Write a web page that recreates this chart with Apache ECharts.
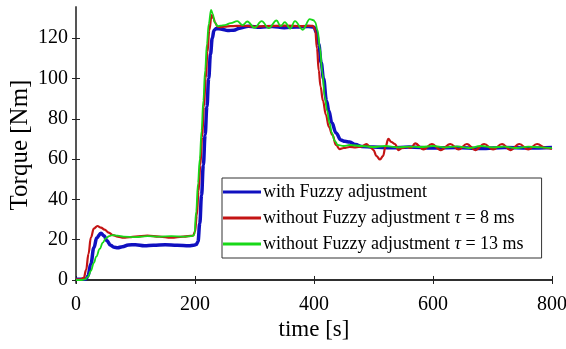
<!DOCTYPE html>
<html>
<head>
<meta charset="utf-8">
<script src="https://cdn.jsdelivr.net/npm/echarts@6/dist/echarts.min.js"></script>
<style>
  html, body { margin: 0; padding: 0; background: #fff; }
  #chart { width: 566px; height: 349px; }
</style>
</head>
<body>
<div id="chart"></div>
<script>
// time [s] and torque [Nm]
var tBlue = [0,10,17,20,25,30,35,42,47,52,58,64,70,78,88,100,115,130,150,170,190,198,202,205,208,211,214,217,220,223,226,229,232,236,245,255,265,275,290,310,330,350,370,390,400,404,408,412,416,421,425,430,437,445,452,460,470,480,500,530,560,600,640,680,720,760,800];
var vBlue = [0.3,0.3,0.5,2,8,16,21,23.2,22,19.5,17.2,16.2,16,16.5,17.4,17.5,17,17.3,17.5,17.2,17,17.3,17.6,19,28,42,57,72,86,100,112,120,124,124.8,124.5,123.8,124,125,126,125.5,125.8,125.2,125.6,125.8,125.5,123,117,108,100,89,84,78,73,69.5,68.8,68.5,67.2,66.3,66,65.6,66,65.5,65.8,65.3,65.8,65.5,65.8];

var tRed = [0,8,13,17,21,25,30,36,42,48,55,62,70,80,90,100,120,140,160,180,197,200,203,206,209,212,215,218,221,224,228,231,234,238,242,250,260,280,300,320,350,380,398,402,405,408,411,415,420,425,431,437,443,450,460,470,480,488,495,500,505,511,516,520,525,530,536,542,548,556,563,570,584,598,613,629,643,657,671,686,701,716,730,745,760,775,790,800];
var vRed = [0.3,0.3,1,5,13,21,25.5,26.8,26,25,23.5,22.3,21.5,21,21.3,21.5,22,21.5,21,21.5,22,24,32,44,57,71,86,100,113,124,131.5,130,127.5,125.8,125.5,125.8,126,126.2,125.8,126,126.3,126,126.2,124,115,104,96,89,82,76,72,67,65,65.5,66,65.8,66.2,67.5,65.8,64.5,61.5,59.8,61.5,66,70,68.5,67.5,64.5,65.5,66,65.5,67.8,64.8,67.5,64.5,67.5,64.8,67.5,64.5,67.5,64.8,67.5,64.5,67.5,64.8,67.5,65.5,65];

var tGreen = [0,10,15,20,25,30,34,40,45,50,56,62,70,80,100,120,140,160,180,195,199,202,205,208,211,214,217,220,223,227,230,233,238,243,250,260,271,280,288,300,312,324,337,344,351,360,368,381,393,399,402,406,410,414,418,422,426,430,435,440,450,460,480,500,520,540,560,580,600,620,640,660,680,700,720,740,760,780,800];
var vGreen = [0,0,0.3,1.5,4.5,8.5,11.6,15.5,18.5,20.7,21.8,22.3,22,21.5,21.3,21.8,21.5,21.8,21.5,21.8,22.5,34,48,60,74,89,104,117,127,134,132,128,126,126.3,126.5,127.5,128.5,126.5,128.3,125.2,128.5,125,128.8,126,128,124.8,128.5,124.2,129.5,129,128,124,115,103,91,84,78,73,69,67,66.5,67,66.5,66,66.5,65.8,66.2,66,66.5,65.8,66.3,65.5,66.5,65.8,66.2,65.5,66.2,65.8,65.5];

var yTicks = [0, 20, 40, 60, 80, 100, 120];
var names = ['with Fuzzy adjustment', 'without Fuzzy adjustment τ = 8 ms', 'without Fuzzy adjustment τ = 13 ms'];

function pairs(t, v) {
  return t.map(function (x, i) { return [x, v[i]]; });
}

var font = 'Liberation Serif';
var chart = echarts.init(document.getElementById('chart'));

var axisLine = { show: true, lineStyle: { color: '#222', width: 1.5 } };
var tick = { show: true, inside: true, length: 4, lineStyle: { color: '#222' } };

var option = {
  animation: false,
  backgroundColor: '#fff',
  grid: { left: 76, right: 14, top: 7, bottom: 66, outerBoundsMode: 'none', containLabel: false },
  legend: {
    orient: 'vertical',
    left: 222,
    top: 178,
    data: [
      { name: names[0], itemStyle: { color: '#1010c0' } },
      { name: names[1], itemStyle: { color: '#c41414' } },
      { name: names[2], itemStyle: { color: '#18d818' } }
    ],
    icon: 'rect',
    itemWidth: 38,
    itemHeight: 3,
    itemGap: 8,
    padding: [5, 18, 5, 1],
    backgroundColor: '#fff',
    borderColor: '#333',
    borderWidth: 1,
    borderRadius: 0,
    formatter: function (name) { return name.replace('τ', '{i|τ}'); },
    textStyle: {
      fontFamily: font, fontSize: 18, color: '#000', padding: [0, 0, 0, -3],
      rich: { i: { fontFamily: font, fontSize: 18, fontStyle: 'italic', color: '#000' } }
    }
  },
  xAxis: [{
    type: 'value', min: 0, max: 800, interval: 200,
    name: 'time [s]', nameLocation: 'middle', nameGap: 35, nameMoveOverlap: false,
    nameTextStyle: { fontFamily: font, fontSize: 23, color: '#000' },
    axisLine: axisLine, axisTick: tick,
    axisLabel: { fontFamily: font, fontSize: 20, color: '#000', margin: 12 },
    splitLine: { show: false }
  }, {
    type: 'value', position: 'top', min: 0, max: 800, interval: 200,
    axisLine: axisLine, axisTick: tick, axisLabel: { show: false }, splitLine: { show: false }
  }],
  yAxis: [{
    type: 'value', min: -1.5, max: 135.5,
    name: 'Torque [Nm]', nameLocation: 'middle', nameGap: 43, nameMoveOverlap: false,
    nameTextStyle: { fontFamily: font, fontSize: 25, color: '#000' },
    axisLine: axisLine,
    axisTick: { show: true, inside: true, length: 4, lineStyle: { color: '#222' }, customValues: yTicks },
    axisLabel: { fontFamily: font, fontSize: 20, color: '#000', margin: 8, customValues: yTicks },
    splitLine: { show: false }
  }, {
    type: 'value', position: 'right', min: -1.5, max: 135.5,
    axisLine: { show: true, lineStyle: { color: '#555', width: 1.5 } },
    axisTick: { show: true, inside: true, length: 4, lineStyle: { color: '#222' }, customValues: yTicks },
    axisLabel: { show: false }, splitLine: { show: false }
  }],
  series: [{
    name: names[2], type: 'line', symbol: 'none', smooth: 0.4, smoothMonotone: 'x',
    data: pairs(tGreen, vGreen), z: 3,
    lineStyle: { color: '#18d818', width: 1.8 }, itemStyle: { color: '#18d818' }
  }, {
    name: names[1], type: 'line', symbol: 'none', smooth: 0.4, smoothMonotone: 'x',
    data: pairs(tRed, vRed), z: 2,
    lineStyle: { color: '#c41414', width: 2.2 }, itemStyle: { color: '#c41414' }
  }, {
    name: names[0], type: 'line', symbol: 'none', smooth: 0.4, smoothMonotone: 'x',
    data: pairs(tBlue, vBlue), z: 1,
    lineStyle: { color: '#1010c0', width: 3.5 }, itemStyle: { color: '#1010c0' }
  }]
};
chart.setOption(option);
</script>
</body>
</html>
